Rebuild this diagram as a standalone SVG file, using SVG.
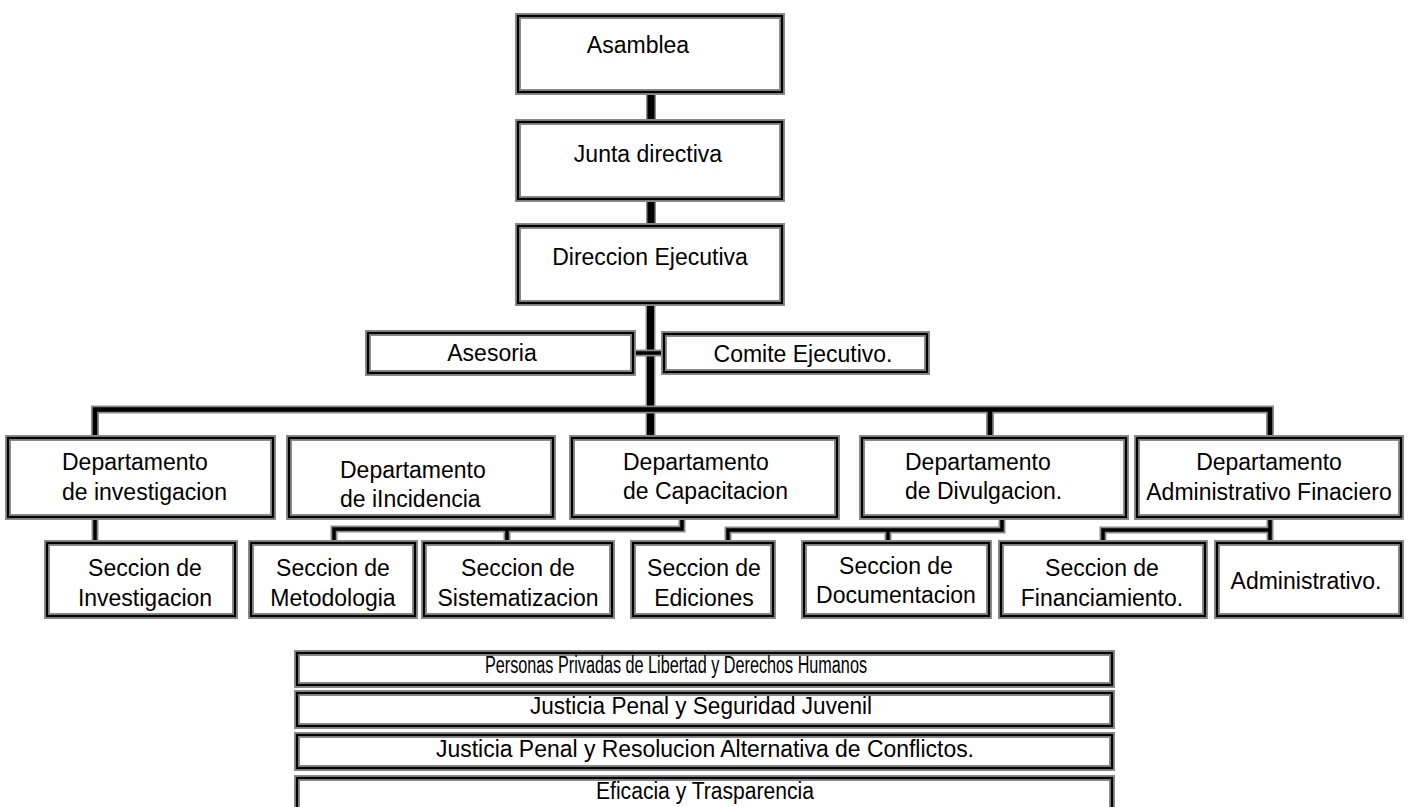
<svg xmlns="http://www.w3.org/2000/svg" width="1411" height="807" viewBox="0 0 1411 807">
<style>
  .bg{fill:#ffffff}
  .box{fill:#ffffff;stroke:#8a8a8a;stroke-width:6}
  .boxl{fill:none;stroke:#000000;stroke-width:2.2}
  .halo{fill:none;stroke:#8a8a8a;stroke-linejoin:miter;stroke-linecap:butt}
  .ln{fill:none;stroke:#000000;stroke-linejoin:miter;stroke-linecap:butt}
  .t{font-family:"Liberation Sans",Arial,sans-serif;font-size:23px;fill:#000000}
  .c{text-anchor:middle}
  .n{font-family:"Liberation Sans",Arial,sans-serif;font-size:23px;fill:#000000;text-anchor:middle}
</style>
<rect class="bg" x="0" y="0" width="1411" height="807"/>

<g id="connectors">
  <path class="halo" stroke-width="10" d="M651,93 V121 M651,200 V226 M650.5,303 V438"/>
  <path class="ln" stroke-width="7" d="M651,93 V121 M651,200 V226 M650.5,303 V438"/>
  <path class="halo" stroke-width="7" d="M633,353 H664"/>
  <path class="ln" stroke-width="3.5" d="M633,353 H664"/>
  <path class="halo" stroke-width="8" d="M95,438 V409.5 H1270 V438 M990,409.5 V438"/>
  <path class="ln" stroke-width="4.5" d="M95,438 V409.5 H1270 V438 M990,409.5 V438"/>
  <path class="halo" stroke-width="7" d="M95,517 V543 M682,517 V529 H334 V543 M507,529 V543 M1002,517 V530 H728 V543 M888,530 V543 M1270,517 V543 M1270,530 H1103 V543"/>
  <path class="ln" stroke-width="3.5" d="M95,517 V543 M682,517 V529 H334 V543 M507,529 V543 M1002,517 V530 H728 V543 M888,530 V543 M1270,517 V543 M1270,530 H1103 V543"/>
</g>

<g id="asamblea">
  <rect class="box" x="518" y="16" width="264" height="76"/>
  <rect class="boxl" x="518" y="16" width="264" height="76"/>
  <text class="t c" x="638" y="53">Asamblea</text>
</g>
<g id="junta-directiva">
  <rect class="box" x="518" y="122" width="264" height="77"/>
  <rect class="boxl" x="518" y="122" width="264" height="77"/>
  <text class="t c" x="648" y="162">Junta directiva</text>
</g>
<g id="direccion-ejecutiva">
  <rect class="box" x="518" y="226" width="264" height="77"/>
  <rect class="boxl" x="518" y="226" width="264" height="77"/>
  <text class="t c" x="650" y="265">Direccion Ejecutiva</text>
</g>
<g id="asesoria">
  <rect class="box" x="368" y="333" width="265" height="40"/>
  <rect class="boxl" x="368" y="333" width="265" height="40"/>
  <text class="t c" x="492" y="361">Asesoria</text>
</g>
<g id="comite-ejecutivo">
  <rect class="box" x="664" y="334" width="263" height="38"/>
  <rect class="boxl" x="664" y="334" width="263" height="38"/>
  <text class="t c" x="803" y="362">Comite Ejecutivo.</text>
</g>

<g id="dep-investigacion">
  <rect class="box" x="8" y="438" width="265" height="79"/>
  <rect class="boxl" x="8" y="438" width="265" height="79"/>
  <text class="t" x="62" y="470">Departamento</text>
  <text class="t" x="62" y="500">de investigacion</text>
</g>
<g id="dep-incidencia">
  <rect class="box" x="289" y="438" width="264" height="79"/>
  <rect class="boxl" x="289" y="438" width="264" height="79"/>
  <text class="t" x="340" y="478">Departamento</text>
  <text class="t" x="340" y="507">de iIncidencia</text>
</g>
<g id="dep-capacitacion">
  <rect class="box" x="572" y="438" width="265" height="79"/>
  <rect class="boxl" x="572" y="438" width="265" height="79"/>
  <text class="t" x="623" y="470">Departamento</text>
  <text class="t" x="623" y="499">de Capacitacion</text>
</g>
<g id="dep-divulgacion">
  <rect class="box" x="862" y="438" width="264" height="79"/>
  <rect class="boxl" x="862" y="438" width="264" height="79"/>
  <text class="t" x="905" y="470">Departamento</text>
  <text class="t" x="905" y="499">de Divulgacion.</text>
</g>
<g id="dep-administrativo">
  <rect class="box" x="1137" y="438" width="264" height="79"/>
  <rect class="boxl" x="1137" y="438" width="264" height="79"/>
  <text class="t c" x="1269" y="470">Departamento</text>
  <text class="t c" x="1269" y="500">Administrativo Finaciero</text>
</g>

<g id="sec-investigacion">
  <rect class="box" x="47" y="543" width="188" height="73"/>
  <rect class="boxl" x="47" y="543" width="188" height="73"/>
  <text class="t c" x="145" y="576">Seccion de</text>
  <text class="t c" x="145" y="606">Investigacion</text>
</g>
<g id="sec-metodologia">
  <rect class="box" x="251" y="543" width="164" height="73"/>
  <rect class="boxl" x="251" y="543" width="164" height="73"/>
  <text class="t c" x="333" y="576">Seccion de</text>
  <text class="t c" x="333" y="606">Metodologia</text>
</g>
<g id="sec-sistematizacion">
  <rect class="box" x="424" y="543" width="188" height="73"/>
  <rect class="boxl" x="424" y="543" width="188" height="73"/>
  <text class="t c" x="518" y="576">Seccion de</text>
  <text class="t c" x="518" y="606">Sistematizacion</text>
</g>
<g id="sec-ediciones">
  <rect class="box" x="633" y="543" width="140" height="73"/>
  <rect class="boxl" x="633" y="543" width="140" height="73"/>
  <text class="t c" x="704" y="576">Seccion de</text>
  <text class="t c" x="704" y="606">Ediciones</text>
</g>
<g id="sec-documentacion">
  <rect class="box" x="804" y="543" width="185" height="73"/>
  <rect class="boxl" x="804" y="543" width="185" height="73"/>
  <text class="t c" x="896" y="574">Seccion de</text>
  <text class="t c" x="896" y="603">Documentacion</text>
</g>
<g id="sec-financiamiento">
  <rect class="box" x="1001" y="543" width="204" height="73"/>
  <rect class="boxl" x="1001" y="543" width="204" height="73"/>
  <text class="t c" x="1102" y="576">Seccion de</text>
  <text class="t c" x="1102" y="606">Financiamiento.</text>
</g>
<g id="sec-administrativo">
  <rect class="box" x="1217" y="543" width="184" height="73"/>
  <rect class="boxl" x="1217" y="543" width="184" height="73"/>
  <text class="t c" x="1306" y="589">Administrativo.</text>
</g>

<g id="personas-privadas">
  <rect class="box" x="297" y="653" width="815" height="32"/>
  <rect class="boxl" x="297" y="653" width="815" height="32"/>
  <text class="n" x="676" y="673" font-size="20" textLength="382" lengthAdjust="spacingAndGlyphs">Personas Privadas de Libertad y Derechos Humanos</text>
</g>
<g id="justicia-juvenil">
  <rect class="box" x="297" y="693" width="815" height="33"/>
  <rect class="boxl" x="297" y="693" width="815" height="33"/>
  <text class="n" x="701" y="714" textLength="342" lengthAdjust="spacingAndGlyphs">Justicia Penal y Seguridad Juvenil</text>
</g>
<g id="justicia-resolucion">
  <rect class="box" x="297" y="735" width="815" height="33"/>
  <rect class="boxl" x="297" y="735" width="815" height="33"/>
  <text class="n" x="705" y="757" textLength="538" lengthAdjust="spacingAndGlyphs">Justicia Penal y Resolucion Alternativa de Conflictos.</text>
</g>
<g id="eficacia">
  <rect class="box" x="297" y="778" width="815" height="40"/>
  <rect class="boxl" x="297" y="778" width="815" height="40"/>
  <text class="n" x="705" y="799" textLength="218" lengthAdjust="spacingAndGlyphs">Eficacia y Trasparencia</text>
</g>
</svg>
